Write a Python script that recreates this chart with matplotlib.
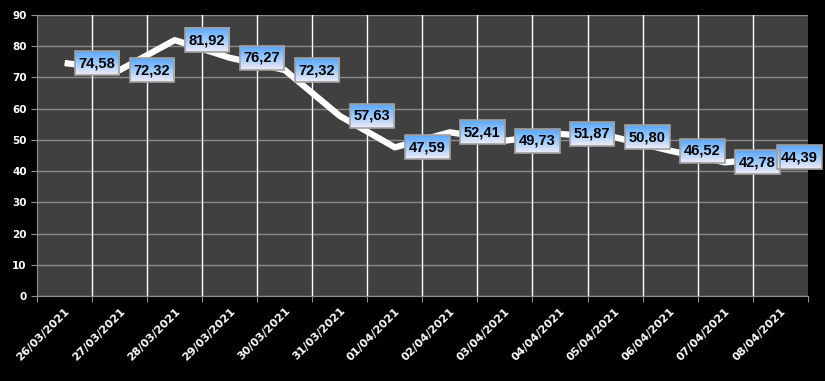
import numpy as np
import matplotlib
matplotlib.use("Agg")
import matplotlib.pyplot as plt
from matplotlib.colors import LinearSegmentedColormap

dates = ["26/03/2021", "27/03/2021", "28/03/2021", "29/03/2021", "30/03/2021",
         "31/03/2021", "01/04/2021", "02/04/2021", "03/04/2021", "04/04/2021",
         "05/04/2021", "06/04/2021", "07/04/2021", "08/04/2021"]
values = [74.58, 72.32, 81.92, 76.27, 72.32, 57.63, 47.59, 52.41,
          49.73, 51.87, 50.80, 46.52, 42.78, 44.39]
yticks = [0, 10, 20, 30, 40, 50, 60, 70, 80, 90]

fig = plt.figure(figsize=(8.25, 3.81), dpi=100, facecolor="black")
ax = fig.add_axes([0.045, 0.223, 0.934, 0.738])
ax.set_facecolor("#404040")

x = np.arange(len(values))
ax.plot(x, values, color="white", lw=4.5, solid_capstyle="butt", zorder=3)

ax.set_xlim(-0.5, len(values) - 0.5)
ax.set_ylim(0, 90)
ax.set_yticks(yticks)
ax.set_yticklabels([str(v) for v in yticks], color="white",
                   fontsize=7.5, fontweight="bold")

# category boundaries get the ticks and the white grid lines
bounds = np.arange(len(values) + 1) - 0.5
ax.set_xticks(bounds)
ax.set_xticklabels([])
ax.set_xticks(x, minor=True)
ax.set_xticklabels(dates, minor=True, rotation=45, ha="right",
                   rotation_mode="anchor", color="white",
                   fontsize=8, fontweight="bold")
ax.tick_params(axis="x", which="minor", length=0, pad=7)
ax.tick_params(axis="x", which="major", length=4, color="#909090")
ax.tick_params(axis="y", length=4, color="#909090")
for b in bounds[1:-1]:
    ax.axvline(b, color="white", lw=1, zorder=1)
ax.yaxis.grid(True, color="#8a8a8a", lw=1, zorder=1)
ax.set_axisbelow(True)
for s in ax.spines.values():
    s.set_visible(False)
ax.spines["left"].set_visible(True)
ax.spines["left"].set_color("#909090")
ax.spines["bottom"].set_visible(True)
ax.spines["bottom"].set_color("#909090")

# data labels to the right of each point
texts = []
for xi, v in zip(x, values):
    lbl = f"{v:.2f}".replace(".", ",")
    t = ax.annotate(lbl, (xi, v), xytext=(14, 0), textcoords="offset pixels",
                    ha="left", va="center", fontsize=10.5, fontweight="bold",
                    family="Liberation Sans",
                    color="black", zorder=6, annotation_clip=False)
    texts.append(t)

fig.canvas.draw()
renderer = fig.canvas.get_renderer()
# last label is pushed back inside the figure, like the original
bb = texts[-1].get_window_extent(renderer)
over = bb.x1 + 7 - fig.bbox.width
if over > 0:
    texts[-1].set_position((14 - over, 0))
    fig.canvas.draw()

cmap = LinearSegmentedColormap.from_list(
    "lbl", ["#58a6ff", "#9ccbff", "#f2ecf8"])
grad = np.linspace(0, 1, 64).reshape(-1, 1)
inv = ax.transData.inverted()
for t in texts:
    bb = t.get_window_extent(renderer)
    cy = (bb.y0 + bb.y1) / 2
    x0, y0 = bb.x0 - 4, cy - 12
    x1, y1 = bb.x1 + 4, cy + 12
    (dx0, dy0), (dx1, dy1) = inv.transform([(x0, y0), (x1, y1)])
    ax.imshow(grad, cmap=cmap, extent=(dx0, dx1, dy0, dy1), aspect="auto",
              zorder=5, clip_on=False, interpolation="bilinear")
    ax.add_patch(plt.Rectangle((dx0, dy0), dx1 - dx0, dy1 - dy0, fill=False,
                               ec="#a0a0a0", lw=1.2, zorder=5.5, clip_on=False))
ax.set_xlim(-0.5, len(values) - 0.5)
ax.set_ylim(0, 90)

fig.savefig("out.png", dpi=100, facecolor="black")
